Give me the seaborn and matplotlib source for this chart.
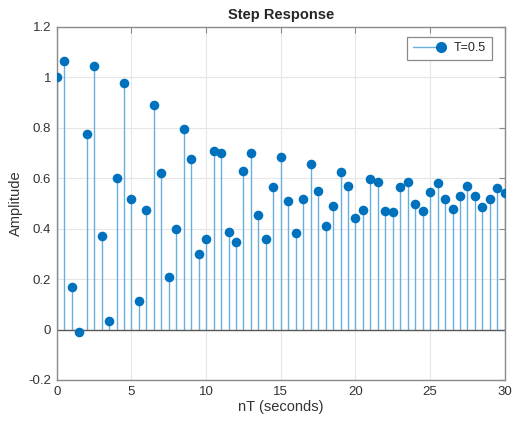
import numpy as np
import pandas as pd
import matplotlib
matplotlib.use("Agg")
import matplotlib.pyplot as plt
from matplotlib.lines import Line2D
from matplotlib.legend_handler import HandlerBase
import seaborn as sns

# Sampled step response, T = 0.5 s
T = 0.5
n_samples = 61
amplitude = [
    1.000, 1.066, 0.170, -0.010, 0.775, 1.046, 0.369, 0.033, 0.600, 0.979,
    0.518, 0.112, 0.475, 0.891, 0.620, 0.208, 0.397, 0.796, 0.678, 0.300,
    0.357, 0.706, 0.700, 0.385, 0.348, 0.627, 0.700, 0.456, 0.357, 0.566,
    0.684, 0.510, 0.382, 0.518, 0.656, 0.549, 0.410, 0.491, 0.624, 0.571,
    0.444, 0.472, 0.595, 0.583, 0.470, 0.466, 0.567, 0.583, 0.496, 0.470,
    0.545, 0.579, 0.516, 0.476, 0.529, 0.571, 0.529, 0.485, 0.517, 0.563,
    0.540,
]
x_ticks = [0, 5, 10, 15, 20, 25, 30]
y_ticks = [-0.2, 0, 0.2, 0.4, 0.6, 0.8, 1, 1.2]
y_tick_labels = ["-0.2", "0", "0.2", "0.4", "0.6", "0.8", "1", "1.2"]

df = pd.DataFrame({"nT": np.arange(n_samples) * T, "y": amplitude})

sns.set_style("white")
plt.rcParams["font.family"] = ["Liberation Sans", "DejaVu Sans"]

BLUE = "#0072BD"
STEM = "#6aaede"
AXIS = "#8a8a8a"
TEXT = "#333333"

fig = plt.figure(figsize=(5.12, 4.26), dpi=100)
ax = fig.add_axes([0.111, 0.108, 0.875, 0.829])

ax.grid(True, color="#e6e6e6", linewidth=0.8)
ax.set_axisbelow(True)

# stems and baseline
ax.vlines(df["nT"], 0, df["y"], color=STEM, linewidth=1.0, zorder=2)
ax.axhline(0, color="#5a5a5a", linewidth=1.0, zorder=2)
sns.scatterplot(data=df, x="nT", y="y", ax=ax, color=BLUE, s=48,
                edgecolor=BLUE, linewidth=0, zorder=3, legend=False)

ax.set_xlim(0, 30)
ax.set_ylim(-0.2, 1.2)
ax.set_xticks(x_ticks)
ax.set_yticks(y_ticks)
ax.set_yticklabels(y_tick_labels)
ax.tick_params(direction="in", length=4, width=0.8, color=AXIS,
               labelcolor=TEXT, labelsize=9.5, top=True, right=True, pad=4)
for s in ax.spines.values():
    s.set_color(AXIS)
    s.set_linewidth(1.0)

ax.set_xlabel("nT (seconds)", fontsize=10.5, color=TEXT, labelpad=2)
ax.set_ylabel("Amplitude", fontsize=10.5, color=TEXT, labelpad=4)
ax.set_title("Step Response", fontsize=10.5, fontweight="bold", pad=6)


class LineEndMarker(HandlerBase):
    def create_artists(self, legend, orig_handle, xdescent, ydescent,
                       width, height, fontsize, trans):
        y = height / 2 - ydescent
        ln = Line2D([-xdescent, width - xdescent], [y, y],
                    color=STEM, linewidth=1.0)
        mk = Line2D([width - xdescent - 2], [y], marker="o", markersize=7,
                    color=BLUE, linestyle="")
        ln.set_transform(trans)
        mk.set_transform(trans)
        return [ln, mk]


handle = Line2D([], [], color=BLUE)
leg = ax.legend([handle], ["T=0.5"], handler_map={Line2D: LineEndMarker()},
                loc="upper right", fancybox=False, framealpha=1,
                edgecolor=AXIS, fontsize=9, handlelength=2.5,
                borderpad=0.45, bbox_to_anchor=(0.985, 0.99))
leg.get_frame().set_linewidth(0.9)

fig.savefig("out.png", dpi=100)
